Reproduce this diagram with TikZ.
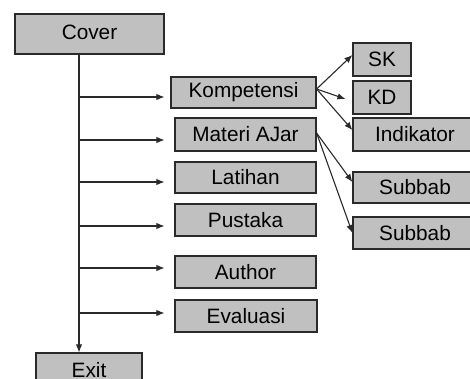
\documentclass[tikz,border=0pt]{standalone}
\usepackage{fontspec}
\setmainfont{Liberation Sans}
\usetikzlibrary{calc,arrows.meta}
\definecolor{boxgray}{HTML}{C0C0C0}
\definecolor{edgegray}{HTML}{2A2A2A}
\begin{document}
\begin{tikzpicture}[x=1pt,y=-1pt,
  box/.style={draw=edgegray,line width=1.2pt,fill=boxgray,inner sep=0pt,
    font=\fontsize{20.8}{24}\selectfont,text=black},
  conn/.style={draw=edgegray,line width=1.1pt,-{Latex[length=8pt,width=6.5pt]}}]
\useasboundingbox (0,0) rectangle (470,378);
\clip (0,0) rectangle (470,378);
\fill[white] (0,0) rectangle (470,378);
% left column
\node[box,minimum width=149,minimum height=40] (cover) at (89.5,34) {\raisebox{4pt}{Cover}};
\node[box,minimum width=106,minimum height=36] (exit) at (89,371) {\raisebox{3pt}{Exit}};
% middle column
\node[box,minimum width=145,minimum height=31] (komp) at (243.5,92.5) {Kompetensi};
\node[box,minimum width=141,minimum height=33] (materi) at (245.5,134.5) {Materi AJar};
\node[box,minimum width=141,minimum height=31] (latihan) at (245.5,177.5) {Latihan};
\node[box,minimum width=141,minimum height=32] (pustaka) at (245.5,220) {Pustaka};
\node[box,minimum width=141,minimum height=32] (author) at (245.5,272) {Author};
\node[box,minimum width=142,minimum height=32] (evaluasi) at (246,316) {Evaluasi};
% right column
\node[box,minimum width=58,minimum height=33] (sk) at (382,59.5) {SK};
\node[box,minimum width=58,minimum height=33] (kd) at (382,97.5) {KD};
\node[box,minimum width=124,minimum height=33,text width=114,align=center] (indikator) at (415,134.5) {Indikator};
\node[box,minimum width=124,minimum height=31,text width=114,align=center] (subbab1) at (415,187.5) {Subbab};
\node[box,minimum width=124,minimum height=32,text width=114,align=center] (subbab2) at (415,233) {Subbab};
% trunk
\draw[conn] (cover.south -| 79,0) -- (exit.north -| 79,0);
\coordinate (t1) at (79,97);
\coordinate (t2) at (79,140);
\coordinate (t3) at (79,182);
\coordinate (t4) at (79,226);
\coordinate (t5) at (79,268);
\coordinate (t6) at (79,313);
\draw[conn] (t1) -- ($(t1 -| komp.west)+(-6,0)$);
\draw[conn] (t2) -- ($(t2 -| materi.west)+(-10,0)$);
\draw[conn] (t3) -- ($(t3 -| latihan.west)+(-10,0)$);
\draw[conn] (t4) -- ($(t4 -| pustaka.west)+(-10,0)$);
\draw[conn] (t5) -- ($(t5 -| author.west)+(-10,0)$);
\draw[conn] (t6) -- ($(t6 -| evaluasi.west)+(-10,0)$);
% fan-outs
\coordinate (ko) at ($(komp.east)+(0,-3.5)$);
\draw[conn] (ko) -- ($(sk.west)+(0,-4.5)$);
\draw[conn] (ko) -- ($(kd.west)+(-7,1.5)$);
\draw[conn] (ko) -- ($(indikator.west)+(0,-4.5)$);
\coordinate (mo) at ($(materi.east)+(0,-1.5)$);
\draw[conn] (mo) -- ($(subbab1.west)+(0,-5.5)$);
\draw[conn] (mo) -- (subbab2.west);
\end{tikzpicture}
\end{document}
